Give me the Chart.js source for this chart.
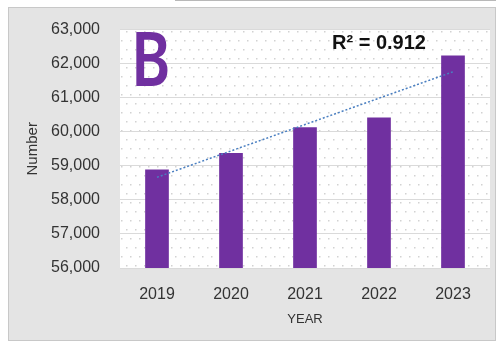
<!DOCTYPE html>
<html>
<head>
<meta charset="utf-8">
<script src="https://cdn.jsdelivr.net/npm/chart.js@4.4.0/dist/chart.umd.min.js"></script>
<style>
  html, body { margin: 0; padding: 0; background: #fff; }
  canvas { display: block; }
</style>
</head>
<body>
<canvas id="yearly-chart" width="496" height="341"></canvas>
<script>
const years = ["2019", "2020", "2021", "2022", "2023"];
const counts = [58890, 59380, 60130, 60420, 62240];
const yTicks = [56000, 57000, 58000, 59000, 60000, 61000, 62000, 63000];
const panelLetter = "B";
const fitLabel = "R\u00B2 = 0.912";

// least-squares line through the yearly counts
function linearFit(ys) {
  const n = ys.length;
  const xs = ys.map((_, i) => i);
  const mx = xs.reduce((a, b) => a + b, 0) / n;
  const my = ys.reduce((a, b) => a + b, 0) / n;
  let sxy = 0, sxx = 0;
  xs.forEach((x, i) => { sxy += (x - mx) * (ys[i] - my); sxx += (x - mx) * (x - mx); });
  const slope = sxy / sxx;
  return xs.map((x) => my + slope * (x - mx));
}
const trend = linearFit(counts);

const purple = "#7030a0";

// dotted fill used inside the plot area
function makeDots() {
  const c = document.createElement("canvas");
  c.width = 18; c.height = 18;
  const g = c.getContext("2d");
  g.fillStyle = "#fff";
  g.fillRect(0, 0, 18, 18);
  g.fillStyle = "#d2d2d2";
  [[4, 4], [13, 4], [0, 13], [9, 13]].forEach(([x, y]) => g.fillRect(x, y, 1.5, 1.5));
  return g.createPattern(c, "repeat");
}

const backdrop = {
  id: "backdrop",
  beforeDraw(chart) {
    const { ctx, chartArea: a, width, height } = chart;
    ctx.save();
    ctx.fillStyle = "#fff";
    ctx.fillRect(0, 0, width, height);
    ctx.fillStyle = "#e4e4e4";
    ctx.fillRect(8, 7, width - 8, height - 7);
    ctx.strokeStyle = "#c8c8c8";
    ctx.lineWidth = 1;
    ctx.strokeRect(8.5, 7.5, width - 9, height - 8);
    ctx.strokeStyle = "#b8b8b8";
    ctx.beginPath();
    ctx.moveTo(175, 0.5);
    ctx.lineTo(width, 0.5);
    ctx.stroke();
    ctx.fillStyle = makeDots();
    ctx.fillRect(a.left, a.top, a.width, a.height);
    ctx.restore();
  },
};

const labels = {
  id: "labels",
  afterDraw(chart) {
    const { ctx, chartArea: a } = chart;
    ctx.save();
    ctx.fillStyle = purple;
    ctx.textBaseline = "alphabetic";
    ctx.translate(a.left + 11, a.top + 56);
    ctx.scale(0.8, 1);
    ctx.font = "600 75px 'Noto Sans'";
    ctx.fillText(panelLetter, 0, 0);
    ctx.restore();

    ctx.save();
    ctx.fillStyle = "#111";
    ctx.font = "bold 20px 'Liberation Sans', Arial";
    ctx.textBaseline = "alphabetic";
    ctx.fillText(fitLabel, 332, 49);
    ctx.restore();
  },
};

new Chart(document.getElementById("yearly-chart"), {
  data: {
    labels: years,
    datasets: [
      {
        type: "line",
        data: trend,
        borderColor: "#4a7fc1",
        borderWidth: 1.5,
        borderDash: [2, 2],
        pointRadius: 0,
        fill: false,
        order: 0,
      },
      {
        type: "bar",
        data: counts,
        backgroundColor: purple,
        borderWidth: 0,
        categoryPercentage: 1,
        barPercentage: 0.32,
        order: 1,
      },
    ],
  },
  options: {
    responsive: false,
    animation: false,
    layout: { padding: { left: 0, top: 26, right: 6, bottom: 0 } },
    plugins: {
      legend: { display: false },
      tooltip: { enabled: false },
    },
    scales: {
      x: {
        grid: { display: false, drawTicks: false },
        border: { display: false },
        ticks: {
          color: "#333",
          font: { family: "'Liberation Sans', Arial", size: 16 },
          padding: 17,
        },
        title: {
          display: true,
          text: "YEAR",
          color: "#333",
          font: { family: "'Liberation Sans', Arial", size: 13 },
          padding: { top: 4, bottom: 14 },
        },
        afterFit(scale) { scale.height = 73; },
      },
      y: {
        min: yTicks[0],
        max: yTicks[yTicks.length - 1],
        afterBuildTicks(scale) { scale.ticks = yTicks.map((v) => ({ value: v })); },
        grid: { color: "#dadada", lineWidth: 1, drawTicks: false },
        border: { display: false },
        ticks: {
          color: "#333",
          font: { family: "'Liberation Sans', Arial", size: 16 },
          padding: 20,
          callback: (v) => v.toLocaleString("en-US"),
        },
        title: {
          display: true,
          text: "Number",
          color: "#333",
          font: { family: "'Liberation Sans', Arial", size: 15 },
          padding: { top: 24, bottom: 0 },
        },
        afterFit(scale) { scale.width = 120; },
      },
    },
  },
  plugins: [backdrop, labels],
});
</script>
</body>
</html>
